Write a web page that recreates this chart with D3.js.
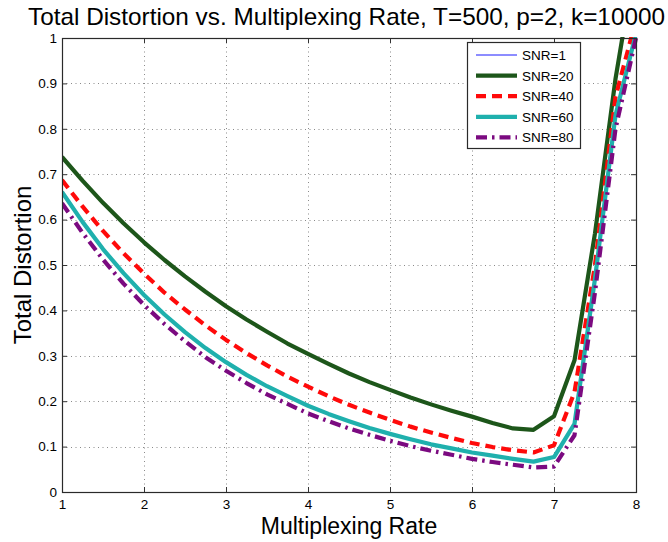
<!DOCTYPE html>
<html>
<head>
<meta charset="utf-8">
<script src="https://cdn.jsdelivr.net/npm/d3@7"></script>
<style>
  html, body { margin: 0; padding: 0; background: #fff; }
  text { font-family: "Liberation Sans", Arial, Helvetica, sans-serif; fill: #000; }
</style>
</head>
<body>
<script>
// Multiplexing rate samples
const rates = [1, 1.25, 1.5, 1.75, 2, 2.25, 2.5, 2.75, 3, 3.25, 3.5, 3.75, 4, 4.25, 4.5, 4.75,
               5, 5.25, 5.5, 5.75, 6, 6.25, 6.5, 6.75, 7, 7.25, 7.5, 7.75, 8];

// Total distortion per SNR
const snr1 = [0.738, 0.686, 0.637, 0.592, 0.550, 0.511, 0.475, 0.441, 0.409, 0.380, 0.353, 0.327, 0.304, 0.282, 0.261, 0.242,
              0.225, 0.208, 0.193, 0.179, 0.166, 0.152, 0.140, 0.137, 0.167, 0.290, 0.570, 0.910, 1.180];
const snr20 = [0.738, 0.686, 0.637, 0.592, 0.550, 0.511, 0.475, 0.441, 0.409, 0.380, 0.353, 0.327, 0.304, 0.282, 0.261, 0.242,
               0.225, 0.208, 0.193, 0.179, 0.166, 0.152, 0.140, 0.137, 0.167, 0.290, 0.570, 0.910, 1.180];
const snr40 = [0.687, 0.629, 0.575, 0.526, 0.481, 0.439, 0.402, 0.367, 0.335, 0.306, 0.279, 0.254, 0.232, 0.211, 0.192, 0.175,
               0.159, 0.144, 0.131, 0.119, 0.108, 0.099, 0.092, 0.087, 0.103, 0.220, 0.500, 0.870, 1.040];
const snr60 = [0.661, 0.595, 0.535, 0.482, 0.434, 0.391, 0.352, 0.317, 0.286, 0.258, 0.233, 0.211, 0.190, 0.172, 0.156, 0.141,
               0.128, 0.116, 0.105, 0.096, 0.087, 0.080, 0.073, 0.067, 0.077, 0.150, 0.470, 0.830, 1.010];
const snr80 = [0.636, 0.571, 0.512, 0.459, 0.412, 0.370, 0.332, 0.297, 0.267, 0.240, 0.215, 0.194, 0.173, 0.156, 0.140, 0.126,
               0.113, 0.101, 0.091, 0.082, 0.073, 0.066, 0.060, 0.054, 0.056, 0.125, 0.440, 0.800, 1.000];

const seriesNames = ["SNR=1", "SNR=20", "SNR=40", "SNR=60", "SNR=80"];
const seriesValues = [snr1, snr20, snr40, snr60, snr80];

const xTicks = [1, 2, 3, 4, 5, 6, 7, 8];
const xTickLabels = ["1", "2", "3", "4", "5", "6", "7", "8"];
const yTicks = [0, 0.1, 0.2, 0.3, 0.4, 0.5, 0.6, 0.7, 0.8, 0.9, 1];
const yTickLabels = ["0", "0.1", "0.2", "0.3", "0.4", "0.5", "0.6", "0.7", "0.8", "0.9", "1"];

// Line styling per series
const styles = [
  { color: "#1a1aff", width: 1,   dash: null },
  { color: "#1d561a", width: 4.2, dash: null },
  { color: "#ff0a0a", width: 4.2, dash: "10,6" },
  { color: "#1fb0ad", width: 4.2, dash: null },
  { color: "#7b0a80", width: 4.2, dash: "11,5,2.5,5" }
];

const W = 668, H = 542;
const plot = { left: 62, right: 636, top: 38, bottom: 492 };

const svg = d3.select("body").append("svg")
  .attr("width", W).attr("height", H);

const x = d3.scaleLinear().domain([1, 8]).range([plot.left, plot.right]);
const y = d3.scaleLinear().domain([0, 1]).range([plot.bottom, plot.top]);

// Title
svg.append("text")
  .attr("x", (28 + 665) / 2).attr("y", 25)
  .attr("text-anchor", "middle")
  .attr("font-size", 24)
  .attr("textLength", 637).attr("lengthAdjust", "spacingAndGlyphs")
  .text("Total Distortion vs. Multiplexing Rate, T=500, p=2, k=10000");

// Plot background
svg.append("rect")
  .attr("x", plot.left).attr("y", plot.top)
  .attr("width", plot.right - plot.left).attr("height", plot.bottom - plot.top)
  .attr("fill", "#fff");

// Dotted grid
const grid = svg.append("g").attr("stroke", "#8a8a8a").attr("stroke-width", 1)
  .attr("stroke-dasharray", "1,3.5");
grid.selectAll("line.gx").data(xTicks.slice(1, -1)).join("line")
  .attr("x1", d => Math.round(x(d)) + 0.5).attr("x2", d => Math.round(x(d)) + 0.5)
  .attr("y1", plot.top).attr("y2", plot.bottom);
grid.selectAll("line.gy").data(yTicks.slice(1, -1)).join("line")
  .attr("y1", d => Math.round(y(d)) + 0.5).attr("y2", d => Math.round(y(d)) + 0.5)
  .attr("x1", plot.left).attr("x2", plot.right);

// Curves, clipped to the axes box
svg.append("clipPath").attr("id", "plotClip").append("rect")
  .attr("x", plot.left).attr("y", plot.top - 1)
  .attr("width", plot.right - plot.left + 2).attr("height", plot.bottom - plot.top + 1);

const line = d3.line().x((d, i) => x(rates[i])).y(d => y(d));
const curves = svg.append("g").attr("clip-path", "url(#plotClip)");
seriesValues.forEach((vals, k) => {
  const s = styles[k];
  curves.append("path")
    .attr("d", line(vals))
    .attr("fill", "none")
    .attr("stroke", s.color)
    .attr("stroke-width", s.width)
    .attr("stroke-linejoin", "round")
    .attr("stroke-dasharray", s.dash);
});

// Axes with inward ticks on all four sides
const tickColor = "#333";
const gx = svg.append("g").attr("transform", `translate(0,${plot.bottom})`)
  .call(d3.axisBottom(x).tickValues(xTicks).tickFormat((d, i) => xTickLabels[i])
    .tickSizeInner(-5).tickSizeOuter(0).tickPadding(7));
const gy = svg.append("g").attr("transform", `translate(${plot.left},0)`)
  .call(d3.axisLeft(y).tickValues(yTicks).tickFormat((d, i) => yTickLabels[i])
    .tickSizeInner(-5).tickSizeOuter(0).tickPadding(5));
const gt = svg.append("g").attr("transform", `translate(0,${plot.top})`)
  .call(d3.axisTop(x).tickValues(xTicks).tickFormat("").tickSizeInner(-5).tickSizeOuter(0));
const gr = svg.append("g").attr("transform", `translate(${plot.right},0)`)
  .call(d3.axisRight(y).tickValues(yTicks).tickFormat("").tickSizeInner(-5).tickSizeOuter(0));
[gx, gy, gt, gr].forEach(g => {
  g.select(".domain").remove();
  g.selectAll(".tick line").attr("stroke", tickColor);
  g.selectAll(".tick text").attr("font-size", 13.5)
    .attr("font-family", "\"Liberation Sans\", Arial, sans-serif").attr("fill", "#000");
});

// Axes frame
svg.append("rect")
  .attr("x", plot.left + 0.5).attr("y", plot.top + 0.5)
  .attr("width", plot.right - plot.left).attr("height", plot.bottom - plot.top)
  .attr("fill", "none").attr("stroke", "#2a2a2a").attr("stroke-width", 1.2);

// Axis titles
svg.append("text")
  .attr("x", (plot.left + plot.right) / 2).attr("y", 534)
  .attr("text-anchor", "middle").attr("font-size", 23)
  .text("Multiplexing Rate");
svg.append("text")
  .attr("transform", `translate(31,${(plot.top + plot.bottom) / 2}) rotate(-90)`)
  .attr("text-anchor", "middle").attr("font-size", 24)
  .text("Total Distortion");

// Legend
const legend = svg.append("g");
legend.append("rect")
  .attr("x", 467.5).attr("y", 42.5).attr("width", 113).attr("height", 106)
  .attr("fill", "#fff").attr("stroke", "#2a2a2a").attr("stroke-width", 1.2);
seriesNames.forEach((name, k) => {
  const s = styles[k];
  const cy = 55 + k * 20.6;
  legend.append("line")
    .attr("x1", 476).attr("x2", 517).attr("y1", cy).attr("y2", cy)
    .attr("stroke", s.color).attr("stroke-width", s.width)
    .attr("stroke-dasharray", s.dash);
  legend.append("text")
    .attr("x", 522).attr("y", cy + 5)
    .attr("font-size", 13.5)
    .text(name);
});
</script>
</body>
</html>
